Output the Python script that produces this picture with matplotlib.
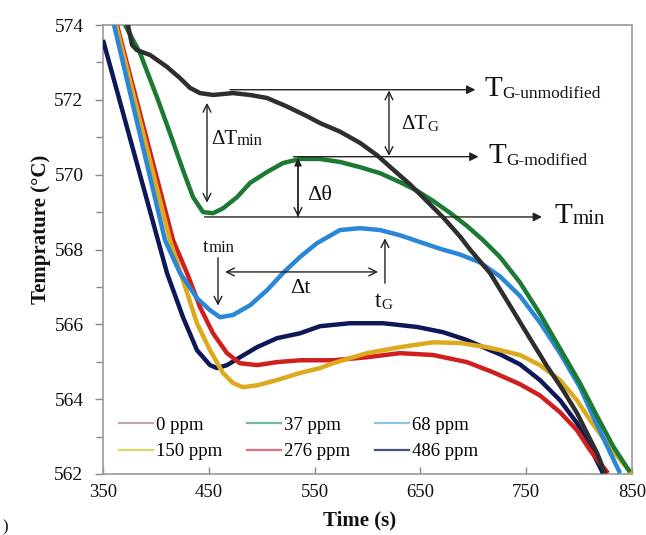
import matplotlib
matplotlib.use("Agg")
import matplotlib.pyplot as plt
from matplotlib.ticker import MultipleLocator
from matplotlib.lines import Line2D

# ---------------- data ----------------
t_0 = [373.6, 377.4, 382, 394.4, 410.5, 422.8, 432.2, 441.7, 454, 472.9, 489, 505, 524, 543,
       555, 574, 592.9, 609, 624.1, 640.2, 656.2, 671.4, 687.4, 696.9, 715.8, 734.7, 753.6,
       769.7, 784.8, 798, 807.5, 817, 824.5]
T_0 = [574.0, 573.47, 573.33, 573.2, 572.88, 572.58, 572.32, 572.18, 572.13, 572.18, 572.13,
       572.05, 571.82, 571.56, 571.38, 571.15, 570.85, 570.52, 570.14, 569.74, 569.29, 568.86,
       568.35, 568.0, 567.37, 566.5, 565.62, 564.88, 564.24, 563.63, 563.09, 562.56, 562.02]

t_37 = [370.8, 385, 401, 413.3, 425.6, 435.1, 444.5, 454, 463.4, 476.7, 489, 505, 520.1, 536.2,
        555, 574, 593, 611.8, 630.7, 646.8, 661.9, 678, 694, 709.2, 725.2, 744.1, 763, 782,
        800.8, 816.9, 832, 848]
T_37 = [574.0, 573.25, 572.07, 571.11, 570.12, 569.4, 569.0, 568.97, 569.1, 569.4, 569.78,
        570.07, 570.31, 570.42, 570.42, 570.34, 570.2, 570.04, 569.8, 569.57, 569.3, 568.98,
        568.63, 568.25, 567.8, 567.12, 566.28, 565.35, 564.43, 563.55, 562.75, 562.05]

t_68 = [360.4, 408.6, 422.8, 438.8, 451.1, 460.6, 472.9, 489, 505, 520.1, 536.2, 552.3, 574,
        592.9, 611.8, 630.7, 649.6, 668.5, 687, 706, 725.2, 744.1, 763, 782, 800.8, 813.1,
        826.4, 838.7]
T_68 = [574.0, 568.25, 567.37, 566.7, 566.38, 566.19, 566.25, 566.51, 566.91, 567.37, 567.8,
        568.17, 568.52, 568.57, 568.52, 568.38, 568.2, 568.02, 567.87, 567.66, 567.28, 566.76,
        566.05, 565.23, 564.32, 563.55, 562.75, 562.02]

t_150 = [362.3, 413.3, 425.6, 438.8, 451.1, 463.4, 472.9, 482.3, 495.6, 514.5, 536.2, 555.1,
         567.4, 599.5, 630.7, 661.9, 687.4, 712.9, 725.2, 744.1, 763, 782, 798, 810.3, 826.4,
         841.5, 850]
T_150 = [574.0, 568.25, 567.18, 566.03, 565.31, 564.7, 564.43, 564.32, 564.37, 564.51, 564.7,
         564.83, 564.96, 565.23, 565.39, 565.52, 565.5, 565.39, 565.31, 565.18, 564.91, 564.51,
         563.97, 563.44, 562.82, 562.29, 562.02]

t_276 = [363.2, 416.2, 429.4, 441.7, 454, 467.2, 479.5, 495.6, 514.5, 536.2, 567.4, 599.5,
         630.7, 661.9, 694, 718.6, 744.1, 763, 782, 798, 810.3, 827.3]
T_276 = [574.0, 568.25, 567.37, 566.46, 565.76, 565.23, 564.96, 564.91, 564.99, 565.04,
         565.04, 565.12, 565.23, 565.18, 564.99, 564.72, 564.4, 564.1, 563.65, 563.17, 562.64,
         562.02]

t_486 = [350, 410.5, 425.6, 438.8, 451.1, 457.8, 467.2, 479.5, 495.6, 514.5,
         536.2, 555.1, 583.5, 614.7, 646.8, 671.4, 694, 715.8, 725.2, 744.1, 763, 782, 798,
         810.3, 822.6]
T_486 = [573.6, 567.37, 566.19, 565.31, 564.91, 564.83, 564.91,
         565.12, 565.39, 565.63, 565.76, 565.95, 566.03, 566.03, 565.93, 565.79, 565.58,
         565.31, 565.2, 564.93, 564.51, 563.97, 563.36, 562.72, 562.02]

labels = ["0 ppm", "37 ppm", "68 ppm", "150 ppm", "276 ppm", "486 ppm"]
series_t = [t_0, t_37, t_68, t_150, t_276, t_486]
series_T = [T_0, T_37, T_68, T_150, T_276, T_486]
colors = ["#2e2e2e", "#1c7a34", "#2a86d6", "#dcaa1c", "#cf1f1f", "#0e1858"]
legend_colors = ["#b8a8aa", "#6fb8a8", "#8cc4ea", "#d6d66a", "#e07088", "#4a5478"]

x_ticks = [350, 450, 550, 650, 750, 850]
y_ticks = [562, 564, 566, 568, 570, 572, 574]

# annotation levels (°C)
T_G_unmod = 572.27
T_G_mod = 570.48
T_min = 568.87

# ---------------- figure ----------------
plt.rcParams['font.family'] = ['Liberation Serif', 'DejaVu Serif']
fig = plt.figure(figsize=(6.46, 5.35), dpi=100)
ax = fig.add_axes([103/646, 1-474/535, 529/646, 449/535])

draw_order = [5, 4, 3, 2, 1, 0]
for i in draw_order:
    ax.plot(series_t[i], series_T[i], color=colors[i], lw=3.2, solid_capstyle='butt',
            solid_joinstyle='round', zorder=3 + (5 - i) * 0.1)

ax.set_xlim(350, 850)
ax.set_ylim(562, 574)
ax.set_xticks(x_ticks)
ax.set_yticks(y_ticks)
ax.yaxis.set_minor_locator(MultipleLocator(1))
ax.tick_params(axis='x', direction='in', length=5, width=1, color='#888888',
               labelsize=13.5, pad=7, labelcolor='#111111')
ax.tick_params(axis='y', which='major', direction='out', length=6, width=1,
               color='#888888', labelsize=14, pad=8, labelcolor='#111111')
ax.tick_params(axis='y', which='minor', direction='out', length=5, width=1, color='#888888')
for s in ax.spines.values():
    s.set_color('#9a9a9a')
    s.set_linewidth(1.2)

ax.set_xlabel("Time (s)", fontsize=15, fontweight='bold', color='#111111')
ax.xaxis.set_label_coords(0.485, -0.082)
ax.set_ylabel("Temprature (°C)", fontsize=15, fontweight='bold', color='#111111')
ax.yaxis.set_label_coords(-0.098, 0.545)

# legend (3 columns, row-wise order)
handles = [Line2D([], [], color=legend_colors[i], lw=1.6) for i in range(6)]
order = [0, 3, 1, 4, 2, 5]
ax.legend([handles[i] for i in order], [labels[i] for i in order], ncol=3,
          frameon=False, fontsize=13.5, loc='upper left',
          bbox_to_anchor=(0.03, 0.128), borderpad=0, borderaxespad=0,
          handlelength=1.8, handletextpad=0.2, columnspacing=1.3, labelspacing=0.5)

LC = '#222222'


def arrow(x0, y0, x1, y1, style, mut=12):
    ax.annotate("", xy=(x1, y1), xytext=(x0, y0),
                arrowprops=dict(arrowstyle=style, color=LC, lw=1.0,
                                shrinkA=0, shrinkB=0, mutation_scale=mut),
                zorder=6)


def label(x, y, big, small, bigsize, smallsize, gap=0.5):
    t1 = ax.text(x, y, big, fontsize=bigsize, ha='left', va='center', color='#111111',
                 zorder=7)
    if small:
        ax.annotate(small, xy=(1, 0), xycoords=t1, xytext=(gap, 0),
                    textcoords='offset points', fontsize=smallsize,
                    ha='left', va='bottom', color='#111111', zorder=7)


# horizontal reference arrows
arrow(470, T_G_unmod, 702, T_G_unmod, '-|>', 13)
arrow(530, T_G_mod, 705, T_G_mod, '-|>', 13)
arrow(446, T_min, 765, T_min, '-|>', 13)
label(711, T_G_unmod + 0.03, "T", "G-unmodified", 21, 12.5, 0)
label(714, T_G_mod + 0.03, "T", "G-modified", 21, 12.5, 0)
label(777, T_min + 0.03, "T", "min", 21, 15, 0)

# vertical double arrows
arrow(448.3, 569.25, 448.3, 571.92, '<->', 14)
label(452, 570.95, "ΔT", "min", 15, 12, 0)
arrow(620.3, 570.5, 620.3, 572.25, '<->', 14)
label(632, 571.33, "ΔT", "G", 15, 11, 0.2)
arrow(534.3, T_min, 534.3, 570.44, '-|>', 11)
arrow(534.3, 570.3, 534.3, T_min, '->', 14)
ax.text(542.5, 569.45, "Δθ", fontsize=16, ha='left', va='center', color='#111111', zorder=7)

# t_min, Δt, t_G
label(444.5, 568.06, "t", "min", 14, 12, 0)
arrow(458.7, 567.78, 458.7, 566.5, '->', 14)
arrow(610, 567.4, 465.3, 567.4, '<->', 14)
ax.text(527, 566.97, "Δt", fontsize=16, ha='left', va='center', color='#111111', zorder=7)
arrow(616.5, 567.1, 616.5, 568.3, '->', 14)
label(607, 566.6, "t", "G", 17, 11, 0)

fig.text(0.004, 0.006, ")", fontsize=12, color='#111111')

fig.savefig("out.png", dpi=100)
